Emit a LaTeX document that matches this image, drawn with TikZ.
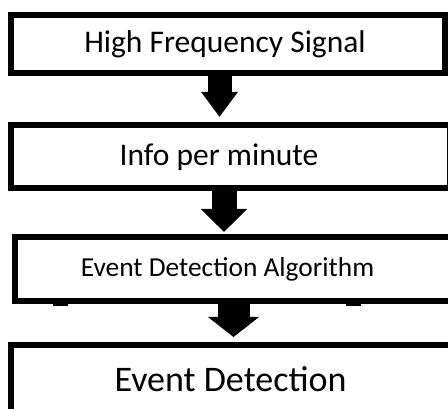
\documentclass[tikz,border=0pt]{standalone}
\usepackage{fontspec}
\setmainfont{Carlito}
\usetikzlibrary{arrows.meta}
\tikzset{
  box/.style={draw=black, line width=6pt, fill=none, inner sep=0pt, shape=rectangle},
  lbl/.style={anchor=base, inner sep=0pt, text=black},
}
\begin{document}
\begin{tikzpicture}[x=1pt,y=1pt]
\useasboundingbox (0,0) rectangle (448,409);
\clip (0,0) rectangle (448,409);
% boxes (y measured upward: Y = 409 - py)
\node[box, minimum width=434pt, minimum height=58pt] (b1) at (227.5,364.5) {};
\node[box, minimum width=439pt, minimum height=63pt] (b2) at (230.5,252.5) {};
\node[box, minimum width=505pt, minimum height=64pt] (b3) at (267.5,140) {};
\node[box, minimum width=505pt, minimum height=100pt] (b4) at (263.5,14) {};
% texts
\node[lbl, font=\fontsize{31.5}{34}\selectfont] (t1) at (225,356) {High Frequency Signal};
\node[lbl, font=\fontsize{31.5}{34}\selectfont] (t2) at (219,243) {Info per minute};
\node[lbl, font=\fontsize{27.4}{30}\selectfont] (t3) at (227.5,132) {Event Detection Algorithm};
\node[lbl, font=\fontsize{36}{40}\selectfont] (t4) at (230.5,17) {Event Detection};
% block arrows
\draw[line width=24pt, -{Triangle[width=35pt,length=25pt]}, shorten >=5pt]
  ([xshift=-8pt]b1.south) -- ([xshift=-8pt]b1.south |- b2.north);
\draw[line width=25pt, -{Triangle[width=45pt,length=23pt]}, shorten >=2pt]
  ([xshift=-6.5pt]b2.south) -- ([xshift=-6.5pt]b2.south |- b3.north);
\draw[line width=32pt, -{Triangle[width=50pt,length=20pt]}, shorten >=5pt]
  ([xshift=-34pt]b3.south) -- ([xshift=-34pt]b3.south |- b4.north);
% small marks under the third box
\fill[black] (53,102.5) rectangle (68,106);
\fill[black] (346,102.5) rectangle (361,106);
\end{tikzpicture}
\end{document}
